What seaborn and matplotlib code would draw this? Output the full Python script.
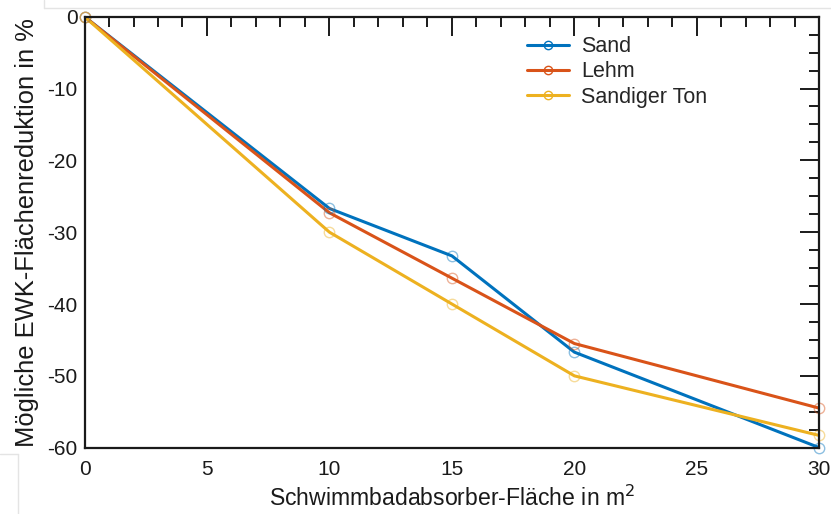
import matplotlib
matplotlib.use("Agg")
import matplotlib.pyplot as plt
from matplotlib.lines import Line2D
from matplotlib.ticker import MultipleLocator
import seaborn as sns
import pandas as pd

# Absorber area (m²) and possible EWK area reduction (%) per soil type
flaeche = [0, 10, 15, 20, 30]
sand = [0, -26.7, -33.3, -46.7, -60.0]
lehm = [0, -27.3, -36.4, -45.5, -54.5]
sandiger_ton = [0, -30.0, -40.0, -50.0, -58.3]
serien = ["Sand", "Lehm", "Sandiger Ton"]
farben = ["#0072BD", "#D95319", "#EDB120"]

df = pd.concat([
    pd.DataFrame({"x": flaeche, "y": werte, "Boden": name})
    for name, werte in zip(serien, [sand, lehm, sandiger_ton])
])

sns.set_theme(style="white")
plt.rcParams["font.family"] = ["Liberation Sans", "DejaVu Sans"]
plt.rcParams["axes.unicode_minus"] = False

fig = plt.figure(figsize=(8.31, 5.14), dpi=100)

# faint border lines around the figure area
fig.add_artist(Line2D([44 / 831, 44 / 831], [1, 1 - 8 / 514], color="#e4e4e4", lw=1))
fig.add_artist(Line2D([44 / 831, 1], [1 - 8 / 514, 1 - 8 / 514], color="#e4e4e4", lw=1))
fig.add_artist(Line2D([0, 18 / 831], [1 - 454 / 514, 1 - 454 / 514], color="#e4e4e4", lw=1))
fig.add_artist(Line2D([18 / 831, 18 / 831], [1 - 454 / 514, 0], color="#e4e4e4", lw=1))

ax = fig.add_axes([0.1017, 0.129, 0.8843, 0.8385])

sns.lineplot(data=df, x="x", y="y", hue="Boden", hue_order=serien,
             palette=farben, linewidth=2.2, ax=ax, legend=False)
for werte, c in zip([sand, lehm, sandiger_ton], farben):
    ax.plot(flaeche, werte, linestyle="none", marker="o", markersize=7.5,
            markerfacecolor="none", markeredgecolor=c, alpha=0.45,
            markeredgewidth=1.0, clip_on=False)

ax.set_xlim(0, 30)
ax.set_ylim(-60, 0)
ax.xaxis.set_major_locator(MultipleLocator(5))
ax.xaxis.set_minor_locator(MultipleLocator(1))
ax.yaxis.set_major_locator(MultipleLocator(10))
ax.yaxis.set_minor_locator(MultipleLocator(2.5))
ax.tick_params(which="both", direction="in", top=True, right=True,
               colors="#1a1a1a", labelsize=15)
ax.tick_params(axis="x", which="major", pad=9)
ax.tick_params(axis="y", which="major", pad=5)
ax.tick_params(which="major", length=14, width=1.4)
ax.tick_params(which="minor", length=7, width=1.4)
for s in ax.spines.values():
    s.set_linewidth(1.6)
    s.set_color("#1a1a1a")

ax.set_xlabel("Schwimmbadabsorber-Fläche in m$^2$", fontsize=16.6, labelpad=5,
              color="#1a1a1a")
ax.set_ylabel("Mögliche EWK-Flächenreduktion in %", fontsize=18.4, labelpad=6,
              color="#1a1a1a")

handles = [Line2D([0], [0], color=c, linewidth=2.2, marker="o",
                  markerfacecolor="none", markeredgecolor=c, markersize=6)
           for c in farben]
ax.legend(handles, serien, loc="upper left", bbox_to_anchor=(0.591, 0.975),
          frameon=False, fontsize=15.5, handlelength=1.95, handletextpad=0.56,
          labelspacing=0.2, borderaxespad=0)

fig.savefig("out.png", dpi=100)
